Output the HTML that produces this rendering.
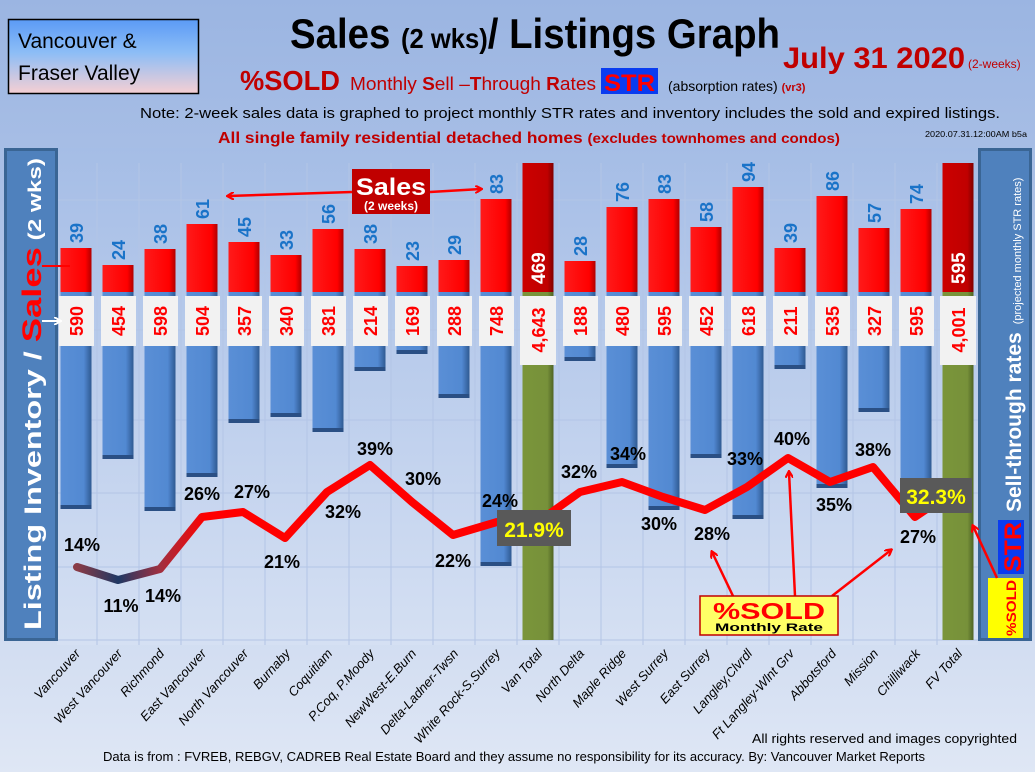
<!DOCTYPE html>
<html><head><meta charset="utf-8"><style>
html,body{margin:0;padding:0;}
body{width:1035px;height:772px;overflow:hidden;}
svg{display:block;font-family:"Liberation Sans",sans-serif;}
</style></head><body>
<svg width="1035" height="772" viewBox="0 0 1035 772" xmlns="http://www.w3.org/2000/svg">
<defs>
<linearGradient id="bg" x1="0" y1="0" x2="0" y2="1">
<stop offset="0" stop-color="#9bb5e2"/><stop offset="0.55" stop-color="#bccdeb"/><stop offset="1" stop-color="#dfe7f5"/>
</linearGradient>
<linearGradient id="plot" x1="0" y1="0" x2="0" y2="1">
<stop offset="0" stop-color="#a5bde6"/><stop offset="1" stop-color="#d5e0f3"/>
</linearGradient>
<linearGradient id="vbox" x1="0" y1="0" x2="0" y2="1">
<stop offset="0" stop-color="#5b9bf6"/><stop offset="0.45" stop-color="#8dbdf6"/><stop offset="1" stop-color="#f6cfd3"/>
</linearGradient>
<linearGradient id="red" x1="0" y1="0" x2="1" y2="0">
<stop offset="0" stop-color="#ff1a1a"/><stop offset="0.8" stop-color="#ff0000"/><stop offset="1" stop-color="#b00000"/>
</linearGradient>
<linearGradient id="blue" x1="0" y1="0" x2="1" y2="0">
<stop offset="0" stop-color="#5a8fd6"/><stop offset="0.75" stop-color="#5289d2"/><stop offset="1" stop-color="#2f5a92"/>
</linearGradient>
<linearGradient id="green" x1="0" y1="0" x2="1" y2="0">
<stop offset="0" stop-color="#7a953a"/><stop offset="0.8" stop-color="#77913a"/><stop offset="1" stop-color="#4f6424"/>
</linearGradient>
<linearGradient id="dred" x1="0" y1="0" x2="1" y2="0">
<stop offset="0" stop-color="#cc0000"/><stop offset="0.8" stop-color="#c00000"/><stop offset="1" stop-color="#800000"/>
</linearGradient>
<linearGradient id="line" gradientUnits="userSpaceOnUse" x1="77" y1="0" x2="220" y2="0">
<stop offset="0" stop-color="#8a3b45"/><stop offset="0.29" stop-color="#1f3864"/><stop offset="0.58" stop-color="#a03040"/><stop offset="0.9" stop-color="#f00"/><stop offset="1" stop-color="#f00"/>
</linearGradient>
<marker id="ah" markerWidth="8" markerHeight="8" refX="6" refY="4" orient="auto" markerUnits="userSpaceOnUse"><path d="M0,0 L7,4 L0,8" fill="none" stroke="#f00" stroke-width="2.2"/></marker>
<marker id="ahw" markerWidth="8" markerHeight="8" refX="6" refY="4" orient="auto" markerUnits="userSpaceOnUse"><path d="M0,0 L7,4 L0,8" fill="none" stroke="#fff" stroke-width="2"/></marker>
</defs>
<rect width="1035" height="772" fill="url(#bg)"/>
<rect x="57" y="148" width="921" height="497" fill="url(#plot)"/>
<g stroke="#b3c5e6" stroke-width="1">
<line x1="57" y1="200" x2="978" y2="200"/><line x1="57" y1="273" x2="978" y2="273"/><line x1="57" y1="330" x2="978" y2="330"/><line x1="57" y1="420" x2="978" y2="420"/><line x1="57" y1="493" x2="978" y2="493"/><line x1="57" y1="567" x2="978" y2="567"/><line x1="57" y1="640" x2="978" y2="640"/>
<line x1="97" y1="163" x2="97" y2="645"/><line x1="139" y1="163" x2="139" y2="645"/><line x1="181" y1="163" x2="181" y2="645"/><line x1="223" y1="163" x2="223" y2="645"/><line x1="265" y1="163" x2="265" y2="645"/><line x1="307" y1="163" x2="307" y2="645"/><line x1="349" y1="163" x2="349" y2="645"/><line x1="391" y1="163" x2="391" y2="645"/><line x1="433" y1="163" x2="433" y2="645"/><line x1="475" y1="163" x2="475" y2="645"/><line x1="517" y1="163" x2="517" y2="645"/><line x1="559" y1="163" x2="559" y2="645"/><line x1="601" y1="163" x2="601" y2="645"/><line x1="643" y1="163" x2="643" y2="645"/><line x1="685" y1="163" x2="685" y2="645"/><line x1="727" y1="163" x2="727" y2="645"/><line x1="769" y1="163" x2="769" y2="645"/><line x1="811" y1="163" x2="811" y2="645"/><line x1="853" y1="163" x2="853" y2="645"/><line x1="895" y1="163" x2="895" y2="645"/><line x1="937" y1="163" x2="937" y2="645"/>
</g>
<g fill="url(#blue)">
<rect x="60.5" y="292" width="31" height="217"/><rect x="102.5" y="292" width="31" height="167"/><rect x="144.5" y="292" width="31" height="219"/><rect x="186.5" y="292" width="31" height="185"/><rect x="228.5" y="292" width="31" height="131"/><rect x="270.5" y="292" width="31" height="125"/><rect x="312.5" y="292" width="31" height="140"/><rect x="354.5" y="292" width="31" height="79"/><rect x="396.5" y="292" width="31" height="62"/><rect x="438.5" y="292" width="31" height="106"/><rect x="480.5" y="292" width="31" height="274"/>
<rect x="564.5" y="292" width="31" height="69"/><rect x="606.5" y="292" width="31" height="176"/><rect x="648.5" y="292" width="31" height="218"/><rect x="690.5" y="292" width="31" height="166"/><rect x="732.5" y="292" width="31" height="227"/><rect x="774.5" y="292" width="31" height="77"/><rect x="816.5" y="292" width="31" height="196"/><rect x="858.5" y="292" width="31" height="120"/><rect x="900.5" y="292" width="31" height="218"/>
</g>
<g fill="#2a4f84">
<rect x="60.5" y="505" width="31" height="4"/><rect x="102.5" y="455" width="31" height="4"/><rect x="144.5" y="507" width="31" height="4"/><rect x="186.5" y="473" width="31" height="4"/><rect x="228.5" y="419" width="31" height="4"/><rect x="270.5" y="413" width="31" height="4"/><rect x="312.5" y="428" width="31" height="4"/><rect x="354.5" y="367" width="31" height="4"/><rect x="396.5" y="350" width="31" height="4"/><rect x="438.5" y="394" width="31" height="4"/><rect x="480.5" y="562" width="31" height="4"/>
<rect x="564.5" y="357" width="31" height="4"/><rect x="606.5" y="464" width="31" height="4"/><rect x="648.5" y="506" width="31" height="4"/><rect x="690.5" y="454" width="31" height="4"/><rect x="732.5" y="515" width="31" height="4"/><rect x="774.5" y="365" width="31" height="4"/><rect x="816.5" y="484" width="31" height="4"/><rect x="858.5" y="408" width="31" height="4"/><rect x="900.5" y="506" width="31" height="4"/>
</g>
<rect x="522.5" y="292" width="31" height="348" fill="url(#green)"/>
<rect x="942.5" y="292" width="31" height="348" fill="url(#green)"/>
<g fill="url(#red)">
<rect x="60.5" y="248" width="31" height="44"/><rect x="102.5" y="265" width="31" height="27"/><rect x="144.5" y="249" width="31" height="43"/><rect x="186.5" y="224" width="31" height="68"/><rect x="228.5" y="242" width="31" height="50"/><rect x="270.5" y="255" width="31" height="37"/><rect x="312.5" y="229" width="31" height="63"/><rect x="354.5" y="249" width="31" height="43"/><rect x="396.5" y="266" width="31" height="26"/><rect x="438.5" y="260" width="31" height="32"/><rect x="480.5" y="199" width="31" height="93"/>
<rect x="564.5" y="261" width="31" height="31"/><rect x="606.5" y="207" width="31" height="85"/><rect x="648.5" y="199" width="31" height="93"/><rect x="690.5" y="227" width="31" height="65"/><rect x="732.5" y="187" width="31" height="105"/><rect x="774.5" y="248" width="31" height="44"/><rect x="816.5" y="196" width="31" height="96"/><rect x="858.5" y="228" width="31" height="64"/><rect x="900.5" y="209" width="31" height="83"/>
</g>
<rect x="522.5" y="163" width="31" height="129" fill="url(#dred)"/>
<rect x="942.5" y="163" width="31" height="129" fill="url(#dred)"/>
<g font-weight="bold" font-size="18" fill="#1a73c8">
<text transform="translate(83,243) rotate(-90)">39</text><text transform="translate(125,260) rotate(-90)">24</text><text transform="translate(167,244) rotate(-90)">38</text><text transform="translate(209,219) rotate(-90)">61</text><text transform="translate(251,237) rotate(-90)">45</text><text transform="translate(293,250) rotate(-90)">33</text><text transform="translate(335,224) rotate(-90)">56</text><text transform="translate(377,244) rotate(-90)">38</text><text transform="translate(419,261) rotate(-90)">23</text><text transform="translate(461,255) rotate(-90)">29</text><text transform="translate(503,194) rotate(-90)">83</text>
<text transform="translate(587,256) rotate(-90)">28</text><text transform="translate(629,202) rotate(-90)">76</text><text transform="translate(671,194) rotate(-90)">83</text><text transform="translate(713,222) rotate(-90)">58</text><text transform="translate(755,182) rotate(-90)">94</text><text transform="translate(797,243) rotate(-90)">39</text><text transform="translate(839,191) rotate(-90)">86</text><text transform="translate(881,223) rotate(-90)">57</text><text transform="translate(923,204) rotate(-90)">74</text>
</g>
<g font-weight="bold" font-size="19" fill="#fff">
<text transform="translate(545,284) rotate(-90)">469</text><text transform="translate(965,284) rotate(-90)">595</text>
</g>
<g fill="#f2f2f2">
<rect x="59" y="296" width="35" height="50"/><rect x="101" y="296" width="35" height="50"/><rect x="143" y="296" width="35" height="50"/><rect x="185" y="296" width="35" height="50"/><rect x="227" y="296" width="35" height="50"/><rect x="269" y="296" width="35" height="50"/><rect x="311" y="296" width="35" height="50"/><rect x="353" y="296" width="35" height="50"/><rect x="395" y="296" width="35" height="50"/><rect x="437" y="296" width="35" height="50"/><rect x="479" y="296" width="35" height="50"/>
<rect x="520" y="296" width="36" height="69"/>
<rect x="563" y="296" width="35" height="50"/><rect x="605" y="296" width="35" height="50"/><rect x="647" y="296" width="35" height="50"/><rect x="689" y="296" width="35" height="50"/><rect x="731" y="296" width="35" height="50"/><rect x="773" y="296" width="35" height="50"/><rect x="815" y="296" width="35" height="50"/><rect x="857" y="296" width="35" height="50"/><rect x="899" y="296" width="35" height="50"/>
<rect x="940" y="296" width="36" height="69"/>
</g>
<g font-weight="bold" font-size="18" fill="#f00" text-anchor="middle">
<text transform="translate(83,321) rotate(-90)">590</text><text transform="translate(125,321) rotate(-90)">454</text><text transform="translate(167,321) rotate(-90)">598</text><text transform="translate(209,321) rotate(-90)">504</text><text transform="translate(251,321) rotate(-90)">357</text><text transform="translate(293,321) rotate(-90)">340</text><text transform="translate(335,321) rotate(-90)">381</text><text transform="translate(377,321) rotate(-90)">214</text><text transform="translate(419,321) rotate(-90)">169</text><text transform="translate(461,321) rotate(-90)">288</text><text transform="translate(503,321) rotate(-90)">748</text>
<text transform="translate(545,330) rotate(-90)">4,643</text>
<text transform="translate(587,321) rotate(-90)">188</text><text transform="translate(629,321) rotate(-90)">480</text><text transform="translate(671,321) rotate(-90)">595</text><text transform="translate(713,321) rotate(-90)">452</text><text transform="translate(755,321) rotate(-90)">618</text><text transform="translate(797,321) rotate(-90)">211</text><text transform="translate(839,321) rotate(-90)">535</text><text transform="translate(881,321) rotate(-90)">327</text><text transform="translate(923,321) rotate(-90)">595</text>
<text transform="translate(965,330) rotate(-90)">4,001</text>
</g>
<polyline points="77,567 118,580 160,569 202,517 243,512 285,538 327,492 370,465 412,502 453,535 497,522 538,522 580,492 622,482 663,497 705,510 747,487 788,458 830,482 873,467 915,517 940,500" fill="none" stroke="url(#line)" stroke-width="8" stroke-linejoin="round" stroke-linecap="round"/>
<g font-weight="bold" font-size="18" fill="#000" text-anchor="middle">
<text x="82" y="551">14%</text><text x="121" y="612">11%</text><text x="163" y="602">14%</text><text x="202" y="500">26%</text><text x="252" y="498">27%</text><text x="282" y="568">21%</text><text x="343" y="518">32%</text><text x="375" y="455">39%</text><text x="423" y="485">30%</text><text x="453" y="567">22%</text><text x="500" y="507">24%</text>
<text x="579" y="478">32%</text><text x="628" y="460">34%</text><text x="659" y="530">30%</text><text x="712" y="540">28%</text><text x="745" y="465">33%</text><text x="792" y="445">40%</text><text x="834" y="511">35%</text><text x="873" y="456">38%</text><text x="918" y="543">27%</text>
</g>
<rect x="497" y="510" width="74" height="36" fill="#595959"/>
<text x="534" y="537" font-weight="bold" font-size="21" fill="#ffff00" text-anchor="middle">21.9%</text>
<rect x="900" y="478" width="72" height="35" fill="#595959"/>
<text x="936" y="504" font-weight="bold" font-size="21" fill="#ffff00" text-anchor="middle">32.3%</text>
<rect x="5.5" y="149.5" width="51" height="490" fill="#4f81bd" stroke="#3a6594" stroke-width="3"/>
<text transform="translate(41,630) rotate(-90)" font-weight="bold" font-size="24" fill="#fff" textLength="472" lengthAdjust="spacingAndGlyphs">Listing Inventory / <tspan fill="#f00" font-size="27">Sales</tspan><tspan font-size="18"> (2  wks)</tspan></text>
<line x1="42" y1="321" x2="60" y2="321" stroke="#fff" stroke-width="2" marker-end="url(#ahw)"/>
<line x1="42" y1="266" x2="70" y2="266" stroke="#f00" stroke-width="2"/>
<rect x="979.5" y="149.5" width="51" height="490" fill="#4f81bd" stroke="#3a6594" stroke-width="3"/>
<text transform="translate(1021,512) rotate(-90)" font-weight="bold" font-size="21" fill="#fff">Sell-through rates<tspan font-size="11" font-weight="normal" dx="8">(projected monthly STR rates)</tspan></text>
<rect x="998" y="520" width="26" height="54" fill="#0a3cf0"/>
<text transform="translate(1021,572) rotate(-90)" font-weight="bold" font-size="24" fill="#f00" textLength="50" lengthAdjust="spacingAndGlyphs">STR</text>
<rect x="988" y="578" width="35" height="60" fill="#ffff00"/>
<text transform="translate(1016,636) rotate(-90)" font-weight="bold" font-size="14" fill="#f00" textLength="56" lengthAdjust="spacingAndGlyphs">%SOLD</text>
<line x1="733" y1="596" x2="712" y2="552" stroke="#f00" stroke-width="2.5" marker-end="url(#ah)"/>
<line x1="795" y1="596" x2="789" y2="472" stroke="#f00" stroke-width="2.5" marker-end="url(#ah)"/>
<line x1="832" y1="596" x2="891" y2="550" stroke="#f00" stroke-width="2.5" marker-end="url(#ah)"/>
<line x1="997" y1="578" x2="973" y2="526" stroke="#f00" stroke-width="2.5" marker-end="url(#ah)"/>
<rect x="700" y="596" width="138" height="39" fill="#ffff66" stroke="#c00000" stroke-width="1.5"/>
<text x="769" y="619" font-weight="bold" font-size="23" fill="#f00" text-anchor="middle" textLength="112" lengthAdjust="spacingAndGlyphs">%SOLD</text>
<text x="769" y="631" font-weight="bold" font-size="11" fill="#000" text-anchor="middle" textLength="108" lengthAdjust="spacingAndGlyphs">Monthly Rate</text>
<line x1="352" y1="192" x2="228" y2="196" stroke="#f00" stroke-width="2.5" marker-end="url(#ah)"/>
<line x1="430" y1="192" x2="481" y2="189" stroke="#f00" stroke-width="2.5" marker-end="url(#ah)"/>
<rect x="352" y="169" width="78" height="45" fill="#c00000"/>
<text x="391" y="195" font-weight="bold" font-size="24" fill="#fff" text-anchor="middle" textLength="70" lengthAdjust="spacingAndGlyphs">Sales</text>
<text x="391" y="210" font-weight="bold" font-size="12" fill="#fff" text-anchor="middle">(2 weeks)</text>
<g font-style="italic" font-size="13" fill="#000" text-anchor="end">
<text transform="translate(81,654) rotate(-48)">Vancouver</text>
<text transform="translate(123,654) rotate(-48)">West Vancouver</text>
<text transform="translate(165,654) rotate(-48)">Richmond</text>
<text transform="translate(207,654) rotate(-48)">East Vancouver</text>
<text transform="translate(249,654) rotate(-48)">North Vancouver</text>
<text transform="translate(291,654) rotate(-48)">Burnaby</text>
<text transform="translate(333,654) rotate(-48)">Coquitlam</text>
<text transform="translate(375,654) rotate(-48)">P.Coq, P.Moody</text>
<text transform="translate(417,654) rotate(-48)">NewWest-E.Burn</text>
<text transform="translate(459,654) rotate(-48)">Delta-Ladner-Twsn</text>
<text transform="translate(501,654) rotate(-48)">White Rock-S.Surrey</text>
<text transform="translate(543,654) rotate(-48)">Van Total</text>
<text transform="translate(585,654) rotate(-48)">North Delta</text>
<text transform="translate(627,654) rotate(-48)">Maple Ridge</text>
<text transform="translate(669,654) rotate(-48)">West Surrey</text>
<text transform="translate(711,654) rotate(-48)">East Surrey</text>
<text transform="translate(753,654) rotate(-48)">Langley,Clvrdl</text>
<text transform="translate(795,654) rotate(-48)">Ft Langley-Wlnt Grv</text>
<text transform="translate(837,654) rotate(-48)">Abbotsford</text>
<text transform="translate(879,654) rotate(-48)">Mission</text>
<text transform="translate(921,654) rotate(-48)">Chilliwack</text>
<text transform="translate(963,654) rotate(-48)">FV Total</text>
</g>
<text x="752" y="743" font-size="13" fill="#000" textLength="265" lengthAdjust="spacingAndGlyphs">All rights reserved and  images copyrighted</text>
<text x="103" y="761" font-size="13" fill="#000" textLength="822" lengthAdjust="spacingAndGlyphs">Data is from : FVREB, REBGV, CADREB Real Estate Board and they assume no responsibility for its accuracy. By: Vancouver Market Reports</text>
<rect x="8.5" y="19.5" width="190" height="74" fill="url(#vbox)" stroke="#000" stroke-width="1.5"/>
<text x="18" y="48" font-size="21" fill="#000">Vancouver &amp;</text>
<text x="18" y="80" font-size="21" fill="#000">Fraser Valley</text>
<text x="290" y="48" font-weight="bold" font-size="42" fill="#000" textLength="490" lengthAdjust="spacingAndGlyphs">Sales <tspan font-size="28">(2 wks)</tspan>/ Listings Graph</text>
<text x="783" y="68" font-weight="bold" font-size="30" fill="#c00000" textLength="182" lengthAdjust="spacingAndGlyphs">July 31  2020</text>
<text x="968" y="68" font-size="12" fill="#c00000">(2-weeks)</text>
<text x="240" y="90" font-weight="bold" font-size="28" fill="#c00000" textLength="100" lengthAdjust="spacingAndGlyphs">%SOLD</text>
<text x="350" y="90" font-size="18" fill="#c00000" textLength="246" lengthAdjust="spacingAndGlyphs">Monthly <tspan font-weight="bold">S</tspan>ell –<tspan font-weight="bold">T</tspan>hrough <tspan font-weight="bold">R</tspan>ates</text>
<rect x="601" y="68" width="57" height="26" fill="#0a3cf0"/>
<text x="604" y="91" font-weight="bold" font-size="24" fill="#f00" textLength="51" lengthAdjust="spacingAndGlyphs">STR</text>
<text x="668" y="91" font-size="14" fill="#000">(absorption rates) <tspan fill="#c00000" font-weight="bold" font-size="11">(vr3)</tspan></text>
<text x="140" y="118" font-size="15" fill="#000" textLength="860" lengthAdjust="spacingAndGlyphs">Note: 2-week sales data is graphed to project monthly STR rates and inventory includes the sold and expired listings.</text>
<text x="218" y="143" font-weight="bold" font-size="16" fill="#c00000" textLength="622" lengthAdjust="spacingAndGlyphs">All single family residential detached homes <tspan font-size="14">(excludes townhomes and condos)</tspan></text>
<text x="925" y="137" font-size="8" fill="#000" textLength="102" lengthAdjust="spacingAndGlyphs">2020.07.31.12:00AM b5a</text>
</svg>
</body></html>
